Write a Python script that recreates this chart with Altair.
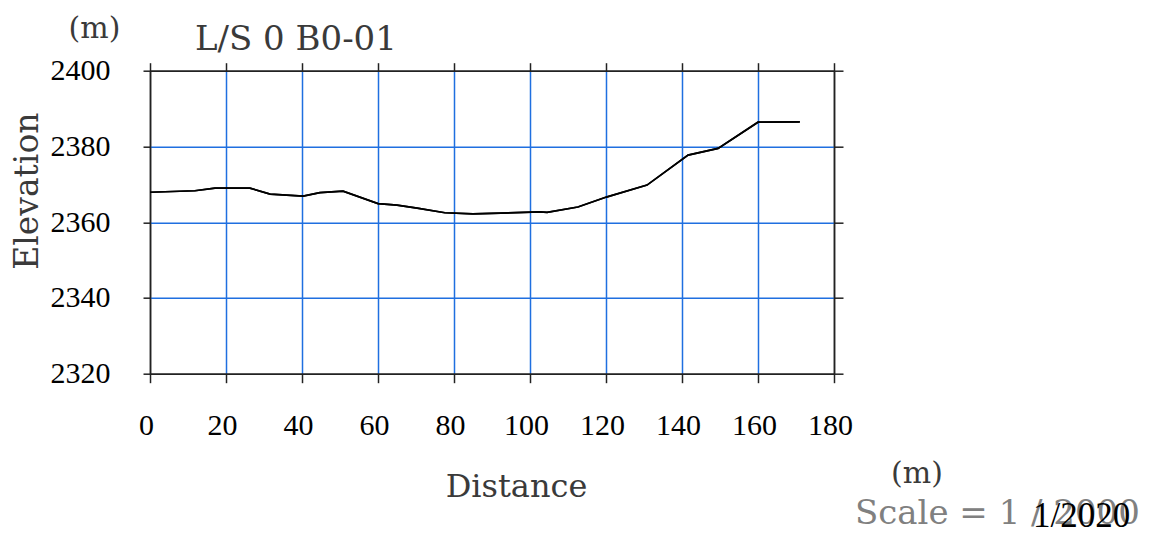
import altair as alt
import pandas as pd

# ---- data ----
distance = [0, 11.8, 17.1, 26.3, 31.6, 40.3, 44.7, 50.8, 60, 65, 70.3, 77.6, 85,
            102.6, 104.5, 112.6, 120.3, 130.8, 141.6, 149.5, 160, 171]
elevation = [2367.9, 2368.3, 2369.0, 2369.0, 2367.4, 2366.9, 2367.8, 2368.2, 2364.9,
             2364.5, 2363.7, 2362.5, 2362.2, 2362.7, 2362.6, 2364.0, 2366.7, 2369.8,
             2377.7, 2379.5, 2386.4, 2386.5]
x_ticks = [0, 20, 40, 60, 80, 100, 120, 140, 160, 180]
y_ticks = [2320, 2340, 2360, 2380, 2400]

chart_title = "L/S 0 B0-01"
unit_label = "(m)"
x_title = "Distance"
y_title = "Elevation"
scale_text = "Scale = 1 / 2000"
scale_overlay = "1/2020"

df = pd.DataFrame({"distance": distance, "elevation": elevation})

W, H = 684, 303
BLUE = "#1f6fe0"
INK = "#222222"
TXT = "#3a3a3a"
MINCHO = "DejaVu Serif"
SERIF = "Liberation Serif"

xs = alt.Scale(domain=[0, 180], nice=False, zero=False)
ys = alt.Scale(domain=[2320, 2400], nice=False, zero=False)

edge_x = "datum.value == 0 || datum.value == 180"
edge_y = "datum.value == 2320 || datum.value == 2400"

main = alt.Chart(df).mark_line(color="black", strokeWidth=1.7).encode(
    x=alt.X("distance:Q", scale=xs, axis=alt.Axis(
        orient="bottom", values=x_ticks, grid=True, format="d",
        gridColor={"condition": {"test": edge_x, "value": INK}, "value": BLUE},
        gridWidth=1.5, tickSize=9, tickColor=INK, tickWidth=1.5,
        domainColor=INK, domainWidth=1.5,
        labelFont=SERIF, labelFontSize=30, labelColor="black",
        labelPadding=28, labelOffset=-4, labelFlush=False, labelOverlap=False,
        title=x_title, titleFont=MINCHO, titleFontSize=32, titleFontWeight="normal",
        titleColor=TXT, titleX=366, titleY=123,
        titleBaseline="alphabetic", titleAlign="center")),
    y=alt.Y("elevation:Q", scale=ys, axis=alt.Axis(
        orient="left", values=y_ticks, grid=True, format="d",
        gridColor={"condition": {"test": edge_y, "value": INK}, "value": BLUE},
        gridWidth=1.5, tickSize=7, tickColor=INK, tickWidth=1.5,
        domainColor=INK, domainWidth=1.5,
        labelFont=SERIF, labelFontSize=30, labelColor="black",
        labelPadding=33, labelFlush=False, labelOverlap=False,
        title=y_title, titleFont=MINCHO, titleFontSize=33, titleFontWeight="normal",
        titleColor=TXT, titleX=-113, titleY=120, titleAngle=270,
        titleBaseline="alphabetic", titleAlign="center")),
)

frame = alt.Chart(df).mark_line(color="black", strokeWidth=1.7).encode(
    x=alt.X("distance:Q", scale=xs, title=None, axis=alt.Axis(
        orient="top", values=x_ticks, grid=False, labels=False,
        tickSize=8, tickColor=INK, tickWidth=1.5,
        domainColor=INK, domainWidth=1.5)),
    y=alt.Y("elevation:Q", scale=ys, title=None, axis=alt.Axis(
        orient="right", values=y_ticks, grid=False, labels=False,
        tickSize=9, tickColor=INK, tickWidth=1.5,
        domainColor=INK, domainWidth=1.5)),
)


def note(text, x, y, font, size, color, align="left"):
    return alt.Chart(pd.DataFrame({"t": [text]})).mark_text(
        font=font, fontSize=size, color=color, align=align, baseline="alphabetic"
    ).encode(x=alt.value(x), y=alt.value(y), text="t:N")


notes = [
    note(chart_title, 45, -20.7, MINCHO, 34, TXT),
    note(unit_label, -55.5, -33, MINCHO, 30, TXT, "center"),
    note(unit_label, 767, 412, MINCHO, 30, TXT, "center"),
    note(scale_text, 705, 453.3, MINCHO, 34, "#808080"),
    note(scale_overlay, 883, 456.5, SERIF, 35, "black"),
]

chart = alt.layer(main, frame, *notes).resolve_axis(
    x="independent", y="independent"
).properties(
    width=W, height=H,
    padding={"left": 142, "top": 62.7, "right": 326, "bottom": 160},
    autosize=alt.AutoSizeParams(type="none"),
).configure_view(stroke=None).configure(background="white")

chart.save("out.html", embed_options={"renderer": "svg", "actions": False})
